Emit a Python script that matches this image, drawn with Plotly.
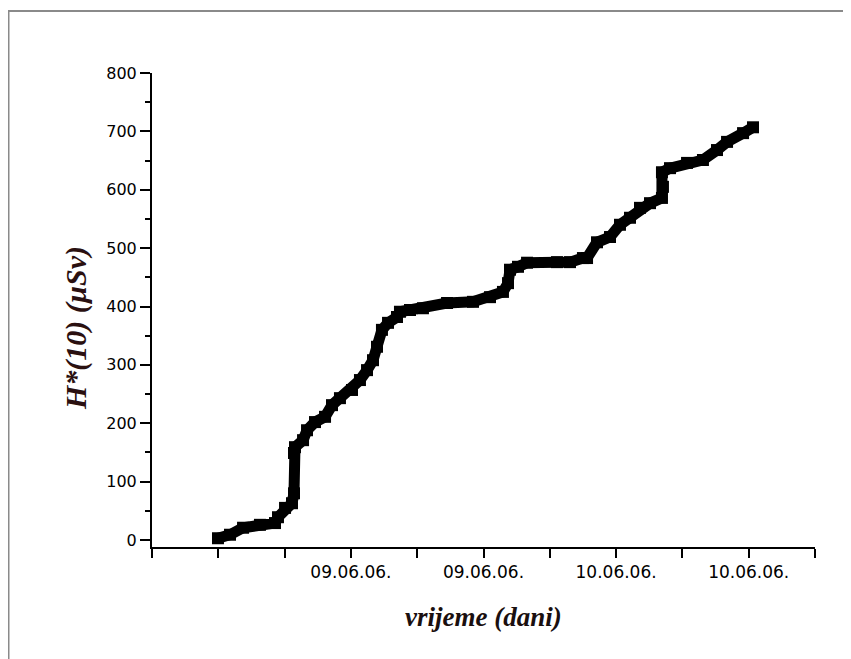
import plotly.graph_objects as go

# elapsed time (hours from the first axis tick) and ambient dose equivalent H*(10) in µSv
hours = [5.97, 7.06, 8.24, 9.77, 11.13, 11.40, 12.04, 12.67, 12.85, 12.85, 12.94, 13.67,
         14.03, 14.75, 15.66, 16.29, 17.01, 18.10, 18.82, 19.46, 20.00, 20.36, 20.81, 21.36,
         22.17, 22.44, 23.35, 24.52, 26.70, 29.05, 30.59, 31.76, 32.22, 32.40, 33.12, 33.94,
         36.65, 37.83, 39.00, 39.37, 40.27, 41.45, 42.35, 43.26, 44.16, 45.07, 46.15, 46.24,
         46.15, 46.88, 48.42, 49.86, 51.13, 52.04, 53.49, 54.39]
dose = [3, 9, 21, 26, 29, 39, 55, 63, 80, 149, 159, 171,
        188, 202, 211, 231, 243, 257, 274, 291, 308, 331, 360, 372,
        382, 391, 394, 397, 406, 408, 416, 425, 440, 463, 468, 475,
        476, 476, 483, 483, 510, 519, 540, 552, 569, 577, 586, 605,
        630, 637, 646, 651, 668, 682, 697, 707]

x_tickvals = [0, 6, 12, 18, 24, 30, 36, 42, 48, 54, 60]
x_ticktext = ["", "", "", "09.06.06.", "", "09.06.06.", "", "10.06.06.", "", "10.06.06.", ""]
y_tickvals = [0, 100, 200, 300, 400, 500, 600, 700, 800]

# the page body adds an 8 px margin, so the figure is drawn 8 px in from the window edge
OFF = 8
W, H = 851 - OFF, 659 - OFF
# plot area in window pixels: x 152..815, y 73..547
L, R, T, B = 152 - OFF, 851 - 815, 73 - OFF, 659 - 547
pw, ph = W - L - R, H - T - B

fig = go.Figure()
fig.add_trace(go.Scatter(
    x=hours, y=dose, mode="lines+markers",
    line=dict(color="black", width=11),
    marker=dict(symbol="square", size=12, color="black"),
    showlegend=False, hoverinfo="skip"))

fig.update_layout(
    width=W, height=H,
    margin=dict(l=L, r=R, t=T, b=B, pad=0),
    paper_bgcolor="white", plot_bgcolor="white",
    font=dict(family="DejaVu Sans, Arial, sans-serif", color="black"),
    xaxis=dict(range=[0, 60], tickmode="array", tickvals=x_tickvals, ticktext=x_ticktext,
               showgrid=False, zeroline=False, showline=True, linecolor="black", linewidth=2,
               ticks="outside", ticklen=9, tickwidth=2, tickcolor="black",
               tickfont=dict(size=17, color="black")),
    yaxis=dict(range=[-12, 800], tickmode="array", tickvals=y_tickvals,
               showgrid=False, zeroline=False, showline=True, linecolor="black", linewidth=2,
               ticks="outside", ticklen=10, tickwidth=2, tickcolor="black",
               tickfont=dict(size=16, color="black"),
               minor=dict(dtick=50, tick0=0, ticks="outside", ticklen=5, tickwidth=2,
                          tickcolor="black", showgrid=False)),
)

# convert window pixel positions to paper coordinates
def px_x(p):
    return (p - OFF - L) / pw

def px_y(p):
    return (H - B - (p - OFF)) / ph

# figure frame (grey border running off the right/bottom edge)
fig.add_shape(type="rect", xref="paper", yref="paper",
              x0=px_x(8.5), x1=px_x(900), y0=px_y(720), y1=px_y(11),
              line=dict(color="#8a8a8a", width=2), fillcolor="rgba(0,0,0,0)", layer="below")

fig.add_annotation(text="<b><i>vrijeme (dani)</i></b>", xref="paper", yref="paper",
                   x=px_x(483), y=px_y(617), xanchor="center", yanchor="middle",
                   showarrow=False,
                   font=dict(family="Liberation Serif, Times New Roman, serif", size=27,
                             color="#1a0f0f"))
fig.add_annotation(text="<b><i>H*(10) (µSv)</i></b>", xref="paper", yref="paper",
                   x=px_x(76), y=px_y(328), xanchor="center", yanchor="middle",
                   showarrow=False, textangle=-90,
                   font=dict(family="Liberation Serif, Times New Roman, serif", size=30,
                             color="#2a1010"))

fig.write_html("out.html")
